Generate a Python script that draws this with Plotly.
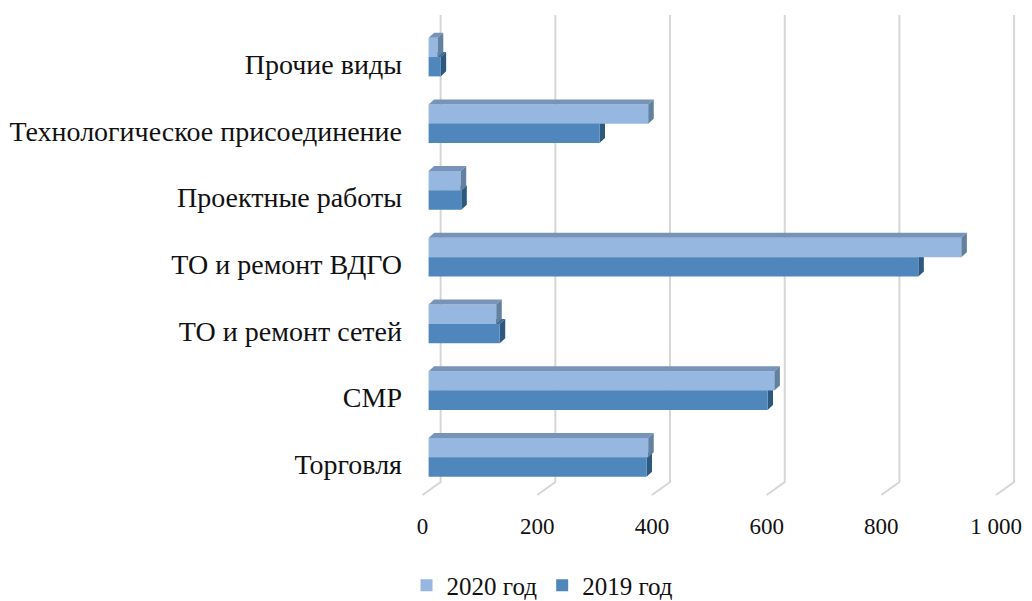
import plotly.graph_objects as go

categories = ["Торговля", "СМР", "ТО и ремонт сетей", "ТО и ремонт ВДГО",
              "Проектные работы", "Технологическое присоединение", "Прочие виды"]
values_2020 = [383, 603, 118, 929, 56, 383, 16]
values_2019 = [380, 591, 124, 854, 57, 298, 21]
tick_vals = [0, 200, 400, 600, 800, 1000]
tick_text = ["0", "200", "400", "600", "800", "1 000"]

positions = list(range(len(categories)))

# colours (front / top / side faces)
light, light_top, light_side = "#95B7E0", "#7893B8", "#62809F"
dark, dark_top, dark_side = "#4F87BD", "#3E6C9A", "#2D5880"
grid_color = "#D6D6D6"

BAR_H = 0.29          # bar thickness in category units
DX, DY = 9.6, 0.075   # 3d depth offset of the bars
WALL_DX, WALL_Y = 21, -0.37     # back wall offset / floor line at the back
FRONT_DX, FRONT_Y = -10.5, -0.565  # front edge of the floor

X_RANGE = [-15, 1040]
Y_RANGE = [-0.58, 6.63]


def poly(pts):
    return "M " + " L ".join(f"{x},{y}" for x, y in pts) + " Z"


fig = go.Figure()

fig.add_trace(go.Bar(
    name="2020 год", orientation="h",
    x=values_2020, y=positions, width=BAR_H, offset=0,
    marker=dict(color=light, line=dict(width=0)),
))
fig.add_trace(go.Bar(
    name="2019 год", orientation="h",
    x=values_2019, y=positions, width=BAR_H, offset=-BAR_H,
    marker=dict(color=dark, line=dict(width=0)),
))

shapes = []

# gridlines on the back wall plus the slanted floor stubs
for v in tick_vals:
    shapes.append(dict(type="path", layer="below", xref="x", yref="y",
                       path=f"M {v + WALL_DX},{Y_RANGE[1]} L {v + WALL_DX},{WALL_Y} L {v + FRONT_DX},{FRONT_Y}",
                       line=dict(color=grid_color, width=2)))

# 3d faces of the bars
for i, (v20, v19) in enumerate(zip(values_2020, values_2019)):
    # 2019: top + side, sit behind the 2020 bar
    shapes.append(dict(type="path", layer="between", xref="x", yref="y",
                       path=poly([(0, i), (v19, i), (v19 + DX, i + DY), (DX, i + DY)]),
                       fillcolor=dark_top, line=dict(width=0)))
    shapes.append(dict(type="path", layer="between", xref="x", yref="y",
                       path=poly([(v19, i - BAR_H), (v19, i), (v19 + DX, i + DY), (v19 + DX, i - BAR_H + DY)]),
                       fillcolor=dark_side, line=dict(width=0)))
    # 2020: top + side
    top = i + BAR_H
    shapes.append(dict(type="path", layer="above", xref="x", yref="y",
                       path=poly([(0, top), (v20, top), (v20 + DX, top + DY), (DX, top + DY)]),
                       fillcolor=light_top, line=dict(width=0)))
    shapes.append(dict(type="path", layer="above", xref="x", yref="y",
                       path=poly([(v20, i), (v20, top), (v20 + DX, top + DY), (v20 + DX, i + DY)]),
                       fillcolor=light_side, line=dict(width=0)))

cat_font = dict(family="Liberation Serif", size=28, color="#111111")
num_font = dict(family="Liberation Serif", size=23, color="#111111")

# the page body adds an 8px margin; the figure is shifted by it, so the
# bottom gets a little extra room for the legend box
fig.update_layout(
    width=1024, height=601,
    margin=dict(l=412, r=7, t=7, b=113, autoexpand=False),
    paper_bgcolor="white", plot_bgcolor="white",
    barmode="overlay",
    font=cat_font,
    shapes=shapes,
    showlegend=True,
    legend=dict(orientation="h", xref="container", yref="container",
                x=0.522, y=0.039, xanchor="center", yanchor="middle",
                font=dict(family="Liberation Serif", size=25, color="#111111"),
                itemwidth=30, traceorder="normal"),
    xaxis=dict(range=X_RANGE, tickvals=tick_vals, ticktext=tick_text,
               showgrid=False, zeroline=False, showline=False, ticks="",
               automargin=False, tickfont=num_font,
               ticklabelstandoff=14, ticklabelshift=-6),
    yaxis=dict(range=Y_RANGE, tickvals=positions, ticktext=categories,
               showgrid=False, zeroline=False, showline=False, ticks="",
               automargin=False, tickfont=cat_font,
               ticklabelstandoff=17, ticklabelshift=7),
)

fig.write_html("out.html")
